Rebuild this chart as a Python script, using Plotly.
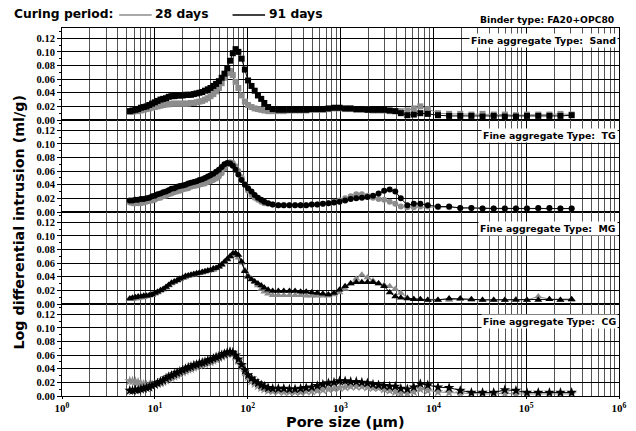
import plotly.graph_objects as go
from plotly.subplots import make_subplots

# ---------------- data ----------------
PORE_SIZE = [5.37, 5.75, 6.17, 6.61, 7.08, 7.59, 8.13, 8.71, 9.33, 10.0,
             10.7, 11.5, 12.3, 13.2, 14.1, 15.1, 16.2, 17.4, 18.6, 20.0,
             21.4, 22.9, 24.5, 26.3, 28.2, 30.2, 32.4, 34.7, 37.2, 39.8,
             42.7, 45.7, 49.0, 52.5, 56.2, 60.3, 64.6, 69.2, 74.1, 79.4,
             86.1, 93.3, 101, 110, 119, 129, 140, 151, 166,
             186, 214, 245, 282, 324, 372, 427, 490, 562, 646,
             741, 851, 977, 1122, 1288, 1479, 1698, 1950, 2239, 2570,
             2951, 3388, 3890, 4467, 5248, 6166, 7244, 8710,
             11220, 14790, 19500, 25700, 33900, 44700, 58900, 77600, 102000,
             135000, 178000, 234000, 309000]

SAND_28 = [0.012, 0.012, 0.013, 0.013, 0.014, 0.015, 0.016, 0.017, 0.018, 0.019,
           0.020, 0.021, 0.022, 0.023, 0.023, 0.024, 0.024, 0.024, 0.024, 0.024,
           0.024, 0.024, 0.025, 0.025, 0.026, 0.027, 0.028, 0.030, 0.032, 0.035,
           0.038, 0.042, 0.047, 0.054, 0.062, 0.069, 0.072, 0.066, 0.056, 0.047,
           0.036, 0.027, 0.022, 0.019, 0.017, 0.016, 0.015, 0.014, 0.013,
           0.013, 0.013, 0.013, 0.014, 0.014, 0.014, 0.014, 0.015, 0.015, 0.015,
           0.016, 0.017, 0.017, 0.016, 0.016, 0.015, 0.015, 0.015, 0.014, 0.014,
           0.014, 0.013, 0.013, 0.013, 0.014, 0.017, 0.020, 0.016,
           0.010, 0.009, 0.009, 0.008, 0.009, 0.008, 0.008, 0.007, 0.008,
           0.008, 0.008, 0.009, 0.008]
SAND_91 = [0.013, 0.014, 0.015, 0.016, 0.018, 0.019, 0.020, 0.022, 0.024, 0.026,
           0.028, 0.030, 0.031, 0.032, 0.034, 0.035, 0.035, 0.036, 0.036, 0.036,
           0.037, 0.037, 0.037, 0.038, 0.039, 0.040, 0.041, 0.043, 0.045, 0.047,
           0.050, 0.053, 0.057, 0.062, 0.068, 0.076, 0.087, 0.098, 0.104, 0.100,
           0.090, 0.074, 0.058, 0.050, 0.043, 0.036, 0.031, 0.025, 0.019,
           0.016, 0.015, 0.015, 0.015, 0.015, 0.015, 0.015, 0.016, 0.016, 0.016,
           0.017, 0.018, 0.018, 0.017, 0.017, 0.016, 0.016, 0.015, 0.015, 0.015,
           0.015, 0.014, 0.013, 0.010, 0.007, 0.008, 0.010, 0.009,
           0.007, 0.006, 0.006, 0.006, 0.005, 0.006, 0.005, 0.005, 0.006,
           0.006, 0.006, 0.006, 0.007]

TG_28 = [0.014, 0.013, 0.013, 0.013, 0.013, 0.014, 0.015, 0.016, 0.017, 0.018,
         0.020, 0.021, 0.023, 0.024, 0.026, 0.027, 0.029, 0.030, 0.031, 0.033,
         0.034, 0.035, 0.037, 0.038, 0.039, 0.040, 0.041, 0.042, 0.044, 0.045,
         0.047, 0.049, 0.052, 0.057, 0.064, 0.070, 0.073, 0.072, 0.067, 0.060,
         0.051, 0.041, 0.031, 0.025, 0.021, 0.018, 0.015, 0.013, 0.012,
         0.011, 0.010, 0.010, 0.010, 0.010, 0.010, 0.010, 0.011, 0.011, 0.012,
         0.013, 0.015, 0.017, 0.020, 0.023, 0.026, 0.026, 0.024, 0.021, 0.019,
         0.018, 0.015, 0.012, 0.008, 0.007, 0.007, 0.008, 0.008,
         0.007, 0.007, 0.006, 0.006, 0.005, 0.005, 0.005, 0.005, 0.005,
         0.005, 0.005, 0.005, 0.005]
TG_91 = [0.017, 0.017, 0.018, 0.018, 0.019, 0.019, 0.020, 0.021, 0.023, 0.024,
         0.026, 0.027, 0.029, 0.030, 0.032, 0.034, 0.035, 0.037, 0.038, 0.039,
         0.040, 0.042, 0.043, 0.044, 0.045, 0.047, 0.048, 0.050, 0.052, 0.054,
         0.056, 0.059, 0.062, 0.066, 0.070, 0.072, 0.071, 0.068, 0.062, 0.055,
         0.047, 0.040, 0.035, 0.030, 0.025, 0.021, 0.018, 0.015, 0.013,
         0.011, 0.010, 0.010, 0.010, 0.010, 0.010, 0.010, 0.011, 0.011, 0.012,
         0.013, 0.014, 0.015, 0.017, 0.019, 0.020, 0.021, 0.022, 0.024, 0.027,
         0.031, 0.033, 0.030, 0.020, 0.010, 0.012, 0.012, 0.010,
         0.008, 0.008, 0.006, 0.006, 0.005, 0.005, 0.005, 0.005, 0.005,
         0.006, 0.006, 0.005, 0.005]

MG_28 = [0.007, 0.007, 0.008, 0.008, 0.009, 0.010, 0.011, 0.012, 0.013, 0.015,
         0.017, 0.019, 0.021, 0.024, 0.027, 0.030, 0.032, 0.034, 0.036, 0.038,
         0.039, 0.041, 0.042, 0.043, 0.044, 0.045, 0.046, 0.047, 0.048, 0.049,
         0.050, 0.052, 0.054, 0.057, 0.061, 0.065, 0.069, 0.071, 0.071, 0.068,
         0.060, 0.050, 0.042, 0.037, 0.032, 0.027, 0.022, 0.018, 0.015,
         0.013, 0.013, 0.013, 0.013, 0.013, 0.013, 0.012, 0.012, 0.012, 0.012,
         0.012, 0.014, 0.017, 0.022, 0.030, 0.037, 0.043, 0.039, 0.034, 0.030,
         0.028, 0.026, 0.022, 0.016, 0.009, 0.007, 0.007, 0.006,
         0.006, 0.006, 0.007, 0.006, 0.006, 0.006, 0.006, 0.007, 0.006,
         0.011, 0.007, 0.006, 0.006]
MG_91 = [0.008, 0.009, 0.010, 0.011, 0.011, 0.012, 0.012, 0.013, 0.014, 0.016,
         0.018, 0.020, 0.022, 0.025, 0.028, 0.031, 0.033, 0.035, 0.037, 0.039,
         0.041, 0.042, 0.043, 0.044, 0.045, 0.046, 0.047, 0.048, 0.049, 0.050,
         0.052, 0.053, 0.055, 0.058, 0.062, 0.066, 0.070, 0.074, 0.075, 0.072,
         0.062, 0.048, 0.040, 0.036, 0.033, 0.030, 0.027, 0.024, 0.021,
         0.019, 0.019, 0.019, 0.019, 0.019, 0.018, 0.018, 0.017, 0.016, 0.015,
         0.014, 0.016, 0.021, 0.026, 0.030, 0.032, 0.032, 0.032, 0.032, 0.030,
         0.026, 0.017, 0.011, 0.009, 0.008, 0.007, 0.007, 0.006,
         0.006, 0.008, 0.008, 0.007, 0.006, 0.006, 0.006, 0.006, 0.006,
         0.006, 0.007, 0.006, 0.007]

CG_28 = [0.022, 0.022, 0.021, 0.020, 0.018, 0.017, 0.016, 0.016, 0.016, 0.017,
         0.018, 0.019, 0.021, 0.023, 0.025, 0.027, 0.029, 0.031, 0.033, 0.035,
         0.037, 0.039, 0.040, 0.042, 0.043, 0.045, 0.046, 0.047, 0.049, 0.050,
         0.052, 0.054, 0.056, 0.058, 0.060, 0.062, 0.063, 0.062, 0.058, 0.052,
         0.044, 0.035, 0.028, 0.022, 0.018, 0.015, 0.012, 0.010, 0.008,
         0.007, 0.007, 0.006, 0.006, 0.006, 0.006, 0.007, 0.007, 0.008, 0.009,
         0.010, 0.011, 0.012, 0.013, 0.014, 0.014, 0.014, 0.013, 0.012, 0.012,
         0.010, 0.008, 0.006, 0.004, 0.004, 0.006, 0.010, 0.008,
         0.006, 0.005, 0.004, 0.003, 0.003, 0.003, 0.004, 0.003, 0.003,
         0.003, 0.003, 0.003, 0.003]
CG_91 = [0.008, 0.008, 0.009, 0.009, 0.010, 0.011, 0.012, 0.013, 0.015, 0.017,
         0.019, 0.021, 0.023, 0.026, 0.028, 0.030, 0.032, 0.034, 0.036, 0.038,
         0.040, 0.042, 0.043, 0.045, 0.046, 0.048, 0.049, 0.050, 0.052, 0.053,
         0.055, 0.057, 0.058, 0.060, 0.062, 0.064, 0.065, 0.064, 0.060, 0.054,
         0.046, 0.038, 0.031, 0.026, 0.022, 0.019, 0.016, 0.014, 0.012,
         0.011, 0.011, 0.011, 0.010, 0.010, 0.011, 0.012, 0.013, 0.015, 0.017,
         0.019, 0.020, 0.022, 0.022, 0.021, 0.021, 0.020, 0.019, 0.017, 0.016,
         0.015, 0.014, 0.014, 0.011, 0.010, 0.013, 0.018, 0.016,
         0.013, 0.012, 0.008, 0.005, 0.005, 0.005, 0.009, 0.008, 0.005,
         0.005, 0.005, 0.005, 0.005]

PANEL_NAMES = ["Sand", "TG", "MG", "CG"]
SERIES_NAMES = ["28 days", "91 days"]
Y_TICKS = [0.00, 0.02, 0.04, 0.06, 0.08, 0.10, 0.12]
X_TICKS = [1, 10, 100, 1000, 10000, 100000, 1000000]
X_TICK_TEXT = ["10<sup>0</sup>", "10<sup>1</sup>", "10<sup>2</sup>", "10<sup>3</sup>",
               "10<sup>4</sup>", "10<sup>5</sup>", "10<sup>6</sup>"]

# ---------------- figure ----------------
W, H = 636, 431
L, R, T, B = 62, 9, 28, 35
PW, PH = W - L - R, H - T - B

GRAY = "#8c8c8c"
BLACK = "#000000"
SANS = "DejaVu Sans"
SERIF = "Liberation Serif"


def px(x):
    return (x - L) / PW


def py(y):
    return (T + PH - y) / PH


fig = make_subplots(rows=4, cols=1, shared_xaxes=True, vertical_spacing=0)

panels = [
    (SAND_28, SAND_91, "square", 6),
    (TG_28, TG_91, "circle", 6),
    (MG_28, MG_91, "triangle-up", 7),
    (CG_28, CG_91, "star", 8),
]

for i, (y28, y91, sym, msize) in enumerate(panels, start=1):
    for ys, col, nm in ((y28, GRAY, SERIES_NAMES[0]), (y91, BLACK, SERIES_NAMES[1])):
        fig.add_trace(
            go.Scatter(
                x=PORE_SIZE, y=ys, name=nm, mode="lines+markers",
                line=dict(color=col, width=1),
                marker=dict(symbol=sym, size=msize, color=col, line=dict(width=0)),
                showlegend=False,
            ),
            row=i, col=1,
        )

minor_vals = [m * 10 ** d for d in range(6) for m in range(2, 10)]

for i in range(1, 5):
    fig.update_xaxes(
        type="log", range=[0, 6],
        tickmode="array", tickvals=X_TICKS, ticktext=X_TICK_TEXT,
        showgrid=True, gridcolor="#000000", gridwidth=1.2,
        minor=dict(tickmode="array", tickvals=minor_vals, showgrid=True,
                   gridcolor="#555555", gridwidth=1, ticks=""),
        showline=True, linecolor="black", linewidth=1, mirror=True,
        ticks="outside" if i == 4 else "", ticklen=2, tickcolor="black",
        showticklabels=(i == 4),
        tickfont=dict(family=SERIF, size=11, color="black", weight="bold"),
        zeroline=False,
        row=i, col=1,
    )
    fig.update_yaxes(
        range=[0, 0.135], tickmode="array", tickvals=Y_TICKS, tickformat=".2f",
        showgrid=True, gridcolor="#000000", gridwidth=1,
        minor=dict(dtick=0.01, tick0=0, ticks="outside", ticklen=2,
                   tickcolor="black", showgrid=False),
        showline=True, linecolor="black", linewidth=1, mirror=True,
        ticks="outside", ticklen=4, tickcolor="black",
        tickfont=dict(family=SERIF, size=10.5, color="black", weight="bold"),
        zeroline=False,
        row=i, col=1,
    )

annotations = []
shapes = []

# legend (curing period)
annotations.append(dict(x=px(11), y=py(14), xref="paper", yref="paper", xanchor="left",
                        yanchor="middle", showarrow=False, text="Curing period:",
                        font=dict(family=SANS, size=12.3, color="black", weight="bold")))
leg = [(120, 153, 154, GRAY, SERIES_NAMES[0]), (235, 268, 270, BLACK, SERIES_NAMES[1])]
for x0, x1, xt, col, nm in leg:
    shapes.append(dict(type="line", xref="paper", yref="paper", x0=px(x0), x1=px(x1),
                       y0=py(15), y1=py(15), line=dict(color=col, width=1.5)))
    annotations.append(dict(x=px(xt), y=py(14), xref="paper", yref="paper", xanchor="left",
                            yanchor="middle", showarrow=False, text=nm,
                            font=dict(family=SANS, size=12.3, color="black", weight="bold")))

annotations.append(dict(x=px(624), y=py(19), xref="paper", yref="paper", xanchor="right",
                        yanchor="middle", showarrow=False, text="Binder type: FA20+OPC80",
                        font=dict(family=SANS, size=9.2, color="black", weight="bold")))

label_y = [40, 135, 228, 321]
for name, ly in zip(PANEL_NAMES, label_y):
    annotations.append(dict(x=px(626), y=py(ly), xref="paper", yref="paper", xanchor="right",
                            yanchor="middle", showarrow=False,
                            text="Fine aggregate Type:  " + name, bgcolor="white",
                            borderpad=1,
                            font=dict(family=SANS, size=9.4, color="black", weight="bold")))

annotations.append(dict(x=px(18), y=py(222), xref="paper", yref="paper", xanchor="center",
                        yanchor="middle", showarrow=False, textangle=-90,
                        text="Log differential intrusion (ml/g)",
                        font=dict(family=SANS, size=14.3, color="black", weight="bold")))
annotations.append(dict(x=px(350), y=py(422), xref="paper", yref="paper", xanchor="center",
                        yanchor="middle", showarrow=False, text="Pore size (\u03bcm)",
                        font=dict(family=SANS, size=14.5, color="black", weight="bold")))

fig.update_layout(
    width=W, height=H,
    margin=dict(l=L, r=R, t=T, b=B),
    paper_bgcolor="white", plot_bgcolor="white",
    showlegend=False,
    annotations=annotations, shapes=shapes,
)

fig.write_html("out.html")
